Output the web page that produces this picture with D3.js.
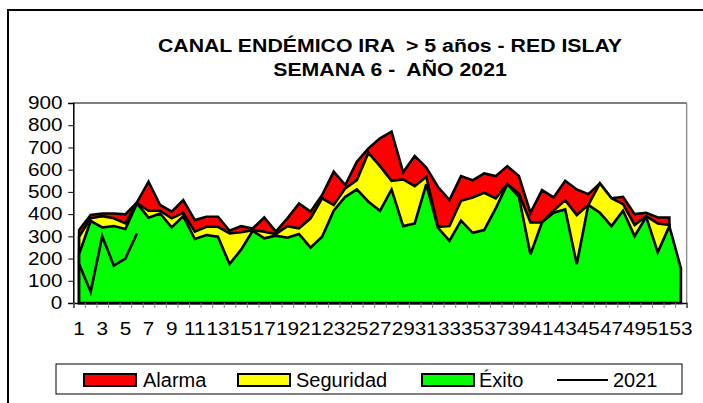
<!DOCTYPE html>
<html><head><meta charset="utf-8">
<script src="https://cdn.jsdelivr.net/npm/d3@7"></script>
<style>body{margin:0;background:#fff}svg{display:block}text{font-family:"Liberation Sans",Arial,sans-serif}</style>
</head><body><svg id="c" width="703" height="403"></svg>
<script>
const weeks = d3.range(1, 54);
const alarma = [328,396,403,403,399,453,546,441,411,463,373,388,388,325,346,335,385,321,381,448,411,486,591,531,636,696,741,771,588,661,610,523,463,571,552,583,571,616,571,406,508,475,550,511,490,538,471,478,400,406,385,385];
const seguridad = [298,381,391,381,358,450,415,415,381,406,321,343,343,313,318,328,321,310,346,336,381,471,441,516,553,676,616,550,556,526,568,343,346,460,475,496,471,535,493,363,363,415,463,396,441,538,471,445,351,391,358,351];
const exito = [220,369,340,346,333,448,384,403,340,391,288,306,298,175,240,325,291,303,294,310,249,298,415,478,511,456,415,511,346,358,535,339,280,371,316,328,426,535,478,219,363,406,421,175,441,406,346,415,301,388,228,346,156];
const y2021 = [175,50,300,168,200,313];
const yTicks = d3.range(0, 901, 100);
const xLabels = weeks.filter(w => w % 2 === 1);
const titleLines = ["CANAL ENDÉMICO IRA  > 5 años - RED ISLAY", "SEMANA 6 -  AÑO 2021"];
const legendItems = [
  {name:"Alarma", color:"#FF0000", type:"area"},
  {name:"Seguridad", color:"#FFFF00", type:"area"},
  {name:"Éxito", color:"#00FF00", type:"area"},
  {name:"2021", color:"#000", type:"line"}
];

const svg = d3.select("#c");
const L = 73.3, R = 686.7, T = 103, B = 303;

// outer frame
svg.append("path").attr("d", `M8,404 L8,10 L704,10`).attr("fill","none").attr("stroke","#000").attr("stroke-width",2);

// title
svg.append("g").selectAll("text").data(titleLines).join("text")
  .attr("transform", (d,i) => `translate(390,${52 + i*24}) scale(1.12,1)`)
  .attr("text-anchor","middle").attr("font-weight","bold").attr("font-size",19)
  .style("white-space","pre").text(d => d);

const x = d3.scaleBand().domain(weeks).range([L, R]).padding(0);
const xb = d3.scaleLinear().domain([0, 53]).range([L, R]);
const y = d3.scaleLinear().domain([0, 900]).range([B, T]);
const cx = w => x(w) + x.bandwidth()/2;

// plot border (top, right)
svg.append("line").attr("x1",L).attr("x2",R).attr("y1",T).attr("y2",T).attr("stroke","#000").attr("stroke-width",1.2);
svg.append("line").attr("x1",R).attr("x2",R).attr("y1",T).attr("y2",B).attr("stroke","#808080").attr("stroke-width",1.2);

function areaPath(vals) {
  const a = d3.area().x((d,i) => cx(weeks[i])).y0(y(0)).y1(d => y(d));
  return a(vals) + "Z";
}
const series = [
  {vals: alarma, color: "#FF0000"},
  {vals: seguridad, color: "#FFFF00"},
  {vals: exito, color: "#00FF00"}
];
svg.append("g").selectAll("path").data(series).join("path")
  .attr("d", d => areaPath(d.vals))
  .attr("fill", d => d.color).attr("stroke","#000").attr("stroke-width",2.6).attr("stroke-linejoin","miter").attr("stroke-miterlimit",3);

svg.append("path").datum(y2021)
  .attr("d", d3.line().x((d,i) => cx(weeks[i])).y(d => y(d)))
  .attr("fill","none").attr("stroke","#000").attr("stroke-width",2.6);

// y axis
const ya = svg.append("g").attr("transform",`translate(${L},0)`)
  .call(d3.axisLeft(y).tickValues(yTicks).tickSize(5).tickPadding(5).tickFormat(d3.format("d")));
ya.select(".domain").attr("stroke","#000").attr("stroke-width",1.5);
ya.selectAll("line").attr("stroke","#000");
ya.selectAll("text").attr("font-size",18).attr("fill","#000").attr("font-family","Liberation Sans, Arial")
  .attr("x", -9.5).attr("transform","scale(1.15,1)");

// x axis boundary ticks
const xt = svg.append("g").attr("transform",`translate(0,${B})`)
  .call(d3.axisBottom(xb).tickValues(d3.range(0,54)).tickSize(5).tickFormat(""));
xt.select(".domain").attr("stroke","#000").attr("stroke-width",1.5);
xt.selectAll(".tick line").attr("stroke","#808080");
// x labels
const xl = svg.append("g").attr("transform",`translate(0,${B})`)
  .call(d3.axisBottom(x).tickValues(xLabels).tickSize(0).tickPadding(19));
xl.select(".domain").remove();
xl.selectAll("text").attr("font-size",18).attr("fill","#000").attr("font-family","Liberation Sans, Arial")
  .attr("transform","scale(1.15,1)");

// legend
svg.append("rect").attr("x",56).attr("y",364).attr("width",626).attr("height",30)
  .attr("fill","#fff").attr("stroke","#000").attr("stroke-width",1);
const lx = [84, 238, 422, 557];
const lg = svg.append("g").selectAll("g").data(legendItems).join("g")
  .attr("transform",(d,i) => `translate(${lx[i]},0)`);
lg.filter(d => d.type==="area").append("rect").attr("x",0).attr("y",374).attr("width",52).attr("height",12)
  .attr("fill", d => d.color).attr("stroke","#000").attr("stroke-width",2);
lg.filter(d => d.type==="line").append("line").attr("x1",0).attr("x2",51).attr("y1",380).attr("y2",380)
  .attr("stroke","#000").attr("stroke-width",2);
lg.append("text").attr("x", (d,i) => [59,58,57,56][i]).attr("y",387).attr("font-size",20)
  .text(d => d.name);
</script></body></html>
